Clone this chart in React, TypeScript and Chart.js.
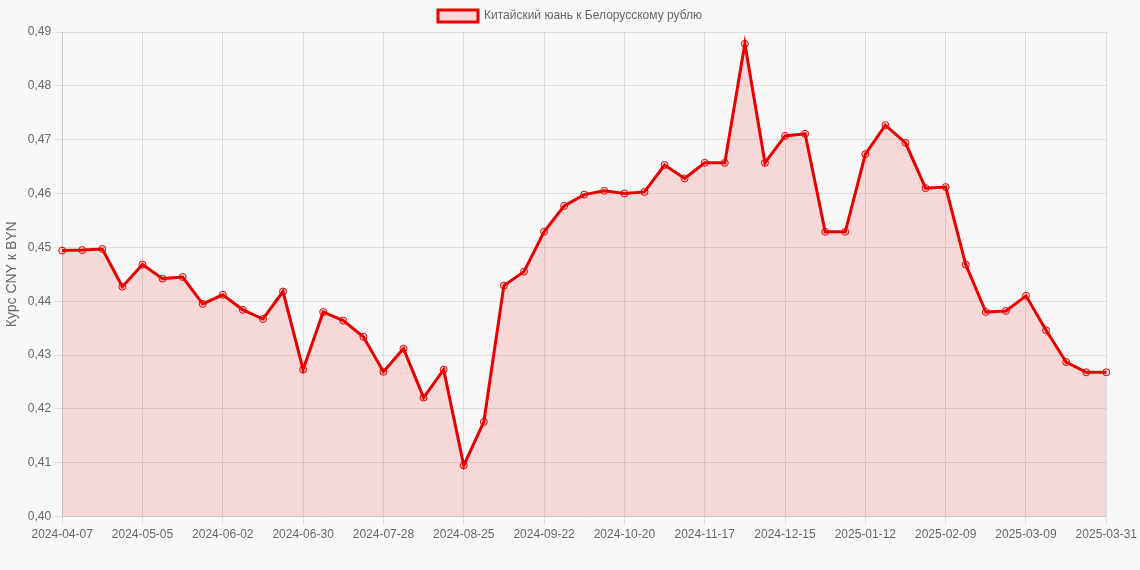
import React, { useEffect, useRef } from "react";
import { Chart, registerables } from "chart.js";

Chart.register(...registerables);

const labels: string[] = [
  "2024-04-07", "2024-04-14", "2024-04-21", "2024-04-28",
  "2024-05-05", "2024-05-12", "2024-05-19", "2024-05-26",
  "2024-06-02", "2024-06-09", "2024-06-16", "2024-06-23",
  "2024-06-30", "2024-07-07", "2024-07-14", "2024-07-21",
  "2024-07-28", "2024-08-04", "2024-08-11", "2024-08-18",
  "2024-08-25", "2024-09-01", "2024-09-08", "2024-09-15",
  "2024-09-22", "2024-09-29", "2024-10-06", "2024-10-13",
  "2024-10-20", "2024-10-27", "2024-11-03", "2024-11-10",
  "2024-11-17", "2024-11-24", "2024-12-01", "2024-12-08",
  "2024-12-15", "2024-12-22", "2024-12-29", "2025-01-05",
  "2025-01-12", "2025-01-19", "2025-01-26", "2025-02-02",
  "2025-02-09", "2025-02-16", "2025-02-23", "2025-03-02",
  "2025-03-09", "2025-03-16", "2025-03-23", "2025-03-30",
  "2025-03-31",
];

const rates: number[] = [
  0.4494, 0.4495, 0.4497, 0.4427,
  0.4468, 0.4442, 0.4445, 0.4395,
  0.4412, 0.4384, 0.4367, 0.4418,
  0.4273, 0.4380, 0.4364, 0.4334,
  0.4269, 0.4312, 0.4221, 0.4273,
  0.4095, 0.4176, 0.4429, 0.4455,
  0.4529, 0.4577, 0.4598, 0.4605,
  0.4600, 0.4603, 0.4653, 0.4628,
  0.4657, 0.4657, 0.4878, 0.4657,
  0.4707, 0.4711, 0.4529, 0.4529,
  0.4673, 0.4727, 0.4694, 0.4610,
  0.4612, 0.4468, 0.4380, 0.4382,
  0.4410, 0.4346, 0.4287, 0.4268,
  0.4268,
];

const seriesLabel = "Китайский юань к Белорусскому рублю";
const yTitle = "Курс CNY к BYN";

export default function App() {
  const ref = useRef<HTMLCanvasElement | null>(null);
  useEffect(() => {
    if (!ref.current) return;
    Chart.defaults.font.family = "'Liberation Sans', Arial, Helvetica, sans-serif";
    Chart.defaults.color = "#666";
    const chart = new Chart(ref.current, {
      type: "line",
      data: {
        labels,
        datasets: [
          {
            label: seriesLabel,
            data: rates,
            borderColor: "#e80000",
            backgroundColor: "rgba(240,0,0,0.13)",
            borderWidth: 3,
            fill: true,
            tension: 0,
            pointRadius: 3.5,
            pointBorderWidth: 1,
            pointBackgroundColor: "rgba(240,0,0,0.13)",
            pointBorderColor: "#e80000",
          },
        ],
      },
      options: {
        animation: false,
        responsive: true,
        maintainAspectRatio: false,
        layout: { padding: { bottom: 25, left: 0, right: 0 } },
        plugins: {
          legend: {
            display: true,
            labels: { boxWidth: 40, font: { size: 12 } },
          },
          tooltip: { enabled: false },
        },
        scales: {
          x: {
            grid: { color: "rgba(0,0,0,0.1)" },
            ticks: {
              autoSkip: false,
              maxRotation: 0,
              minRotation: 0,
              font: { size: 12 },
              callback: (_v: any, i: number) => (i % 4 === 0 ? labels[i] : null),
            },
          },
          y: {
            min: 0.4,
            max: 0.49,
            grid: { color: "rgba(0,0,0,0.1)" },
            title: { display: true, text: yTitle, font: { size: 14 } },
            ticks: {
              stepSize: 0.01,
              font: { size: 12 },
              callback: (v: any) => Number(v).toFixed(2).replace(".", ","),
            },
          },
        },
      },
    });
    return () => chart.destroy();
  }, []);
  return (
    <div
      style={{
        position: "absolute",
        left: 0,
        top: 0,
        width: 1140,
        height: 570,
        background: "#f8f8f8",
      }}
    >
      <canvas ref={ref} />
    </div>
  );
}
